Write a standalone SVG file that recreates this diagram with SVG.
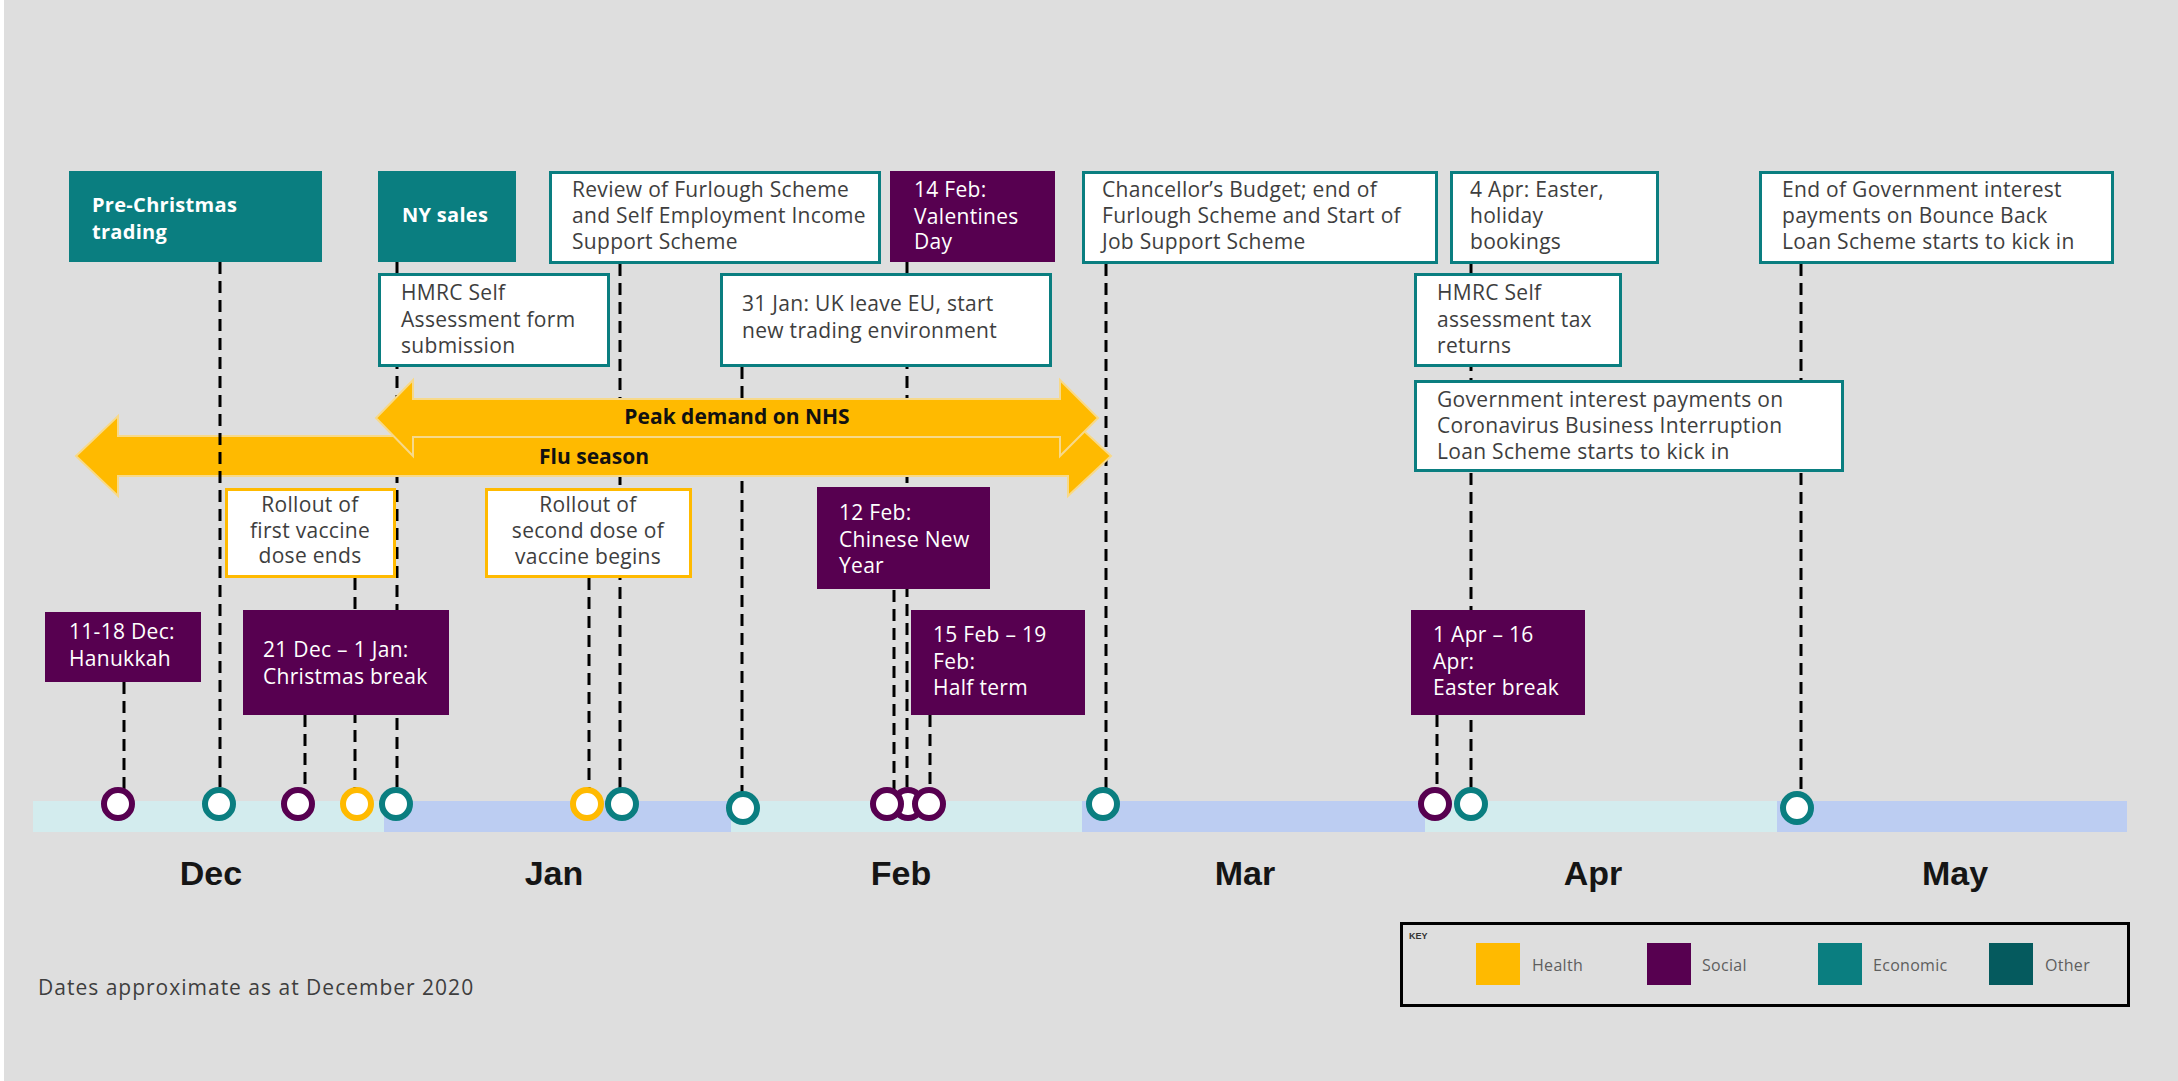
<svg xmlns="http://www.w3.org/2000/svg" width="2178" height="1081" viewBox="0 0 2178 1081">
<defs>
<style>
.t{font-family:"Open Sans","Noto Sans","Liberation Sans",sans-serif;font-size:21px;letter-spacing:0.3px;fill:#3E3E3E}
.tw{font-family:"Open Sans","Noto Sans","Liberation Sans",sans-serif;font-size:21px;letter-spacing:0.3px;fill:#FFFFFF}
.b{font-weight:bold;font-size:20px}
.al{font-family:"Open Sans","Noto Sans","Liberation Sans",sans-serif;font-size:21px;font-weight:bold;fill:#111;text-anchor:middle}
.mid{text-anchor:middle}
.eco{fill:#0A7E80}
.soc{fill:#570050}
.oth{fill:#055A5E}
.hea{fill:#FFBA00}
.we{fill:#FFFFFF;stroke:#0A7E80;stroke-width:3}
.wh{fill:#FFFFFF;stroke:#FFBA00;stroke-width:3}
.dash{stroke:#000;stroke-width:3;stroke-dasharray:12 7;fill:none}
.c{fill:#FFFFFF;stroke-width:6}
.ce{stroke:#0A7E80}
.cs{stroke:#570050}
.ch{stroke:#FFBA00}
.arrow{fill:#FFBA00;stroke:#F7D98A;stroke-width:2}
.month{font-family:"Liberation Sans",Arial,sans-serif;font-size:34px;font-weight:bold;fill:#151515;text-anchor:middle}
.key{font-family:"Open Sans","Noto Sans",sans-serif;font-size:16px;letter-spacing:0.3px;fill:#5E5E5E}
</style>
</defs>

<rect x="0" y="0" width="2178" height="1081" fill="#FFFFFF"/>
<rect x="4" y="0" width="2174" height="1081" fill="#DEDEDE"/>

<g id="timeline-bar">
<rect x="33" y="801" width="351" height="31" fill="#D3ECEE"/>
<rect x="384" y="801" width="347" height="31" fill="#BCCDF2"/>
<rect x="731" y="801" width="351" height="31" fill="#D3ECEE"/>
<rect x="1082" y="801" width="343" height="31" fill="#BCCDF2"/>
<rect x="1425" y="801" width="352" height="31" fill="#D3ECEE"/>
<rect x="1777" y="801" width="350" height="31" fill="#BCCDF2"/>
</g>

<g id="month-labels">
<text class="month" x="211" y="885">Dec</text>
<text class="month" x="554" y="885">Jan</text>
<text class="month" x="901" y="885">Feb</text>
<text class="month" x="1245" y="885">Mar</text>
<text class="month" x="1593" y="885">Apr</text>
<text class="month" x="1955" y="885">May</text>
</g>

<g id="connectors">
<line class="dash" x1="124" y1="682" x2="124" y2="800"/>
<line class="dash" x1="305" y1="715" x2="305" y2="800"/>
<line class="dash" x1="355" y1="578" x2="355" y2="800"/>
<line class="dash" x1="397" y1="262" x2="397" y2="800"/>
<line class="dash" x1="589" y1="578" x2="589" y2="800"/>
<line class="dash" x1="620" y1="264" x2="620" y2="800"/>
<line class="dash" x1="742" y1="367" x2="742" y2="804"/>
<line class="dash" x1="894" y1="590" x2="894" y2="800"/>
<line class="dash" x1="907" y1="262" x2="907" y2="800"/>
<line class="dash" x1="930" y1="715" x2="930" y2="800"/>
<line class="dash" x1="1106" y1="264" x2="1106" y2="800"/>
<line class="dash" x1="1437" y1="715" x2="1437" y2="800"/>
<line class="dash" x1="1471" y1="264" x2="1471" y2="800"/>
<line class="dash" x1="1801" y1="264" x2="1801" y2="804"/>
</g>

<g id="flu-season">
<polygon class="arrow" points="76,456 118,416 118,436 1068,436 1068,416 1111,456 1068,496 1068,476 118,476 118,496"/>
<text class="al" x="594" y="464">Flu season</text>
</g>
<g id="peak-demand">
<polygon class="arrow" points="376,418 413,380 413,399 1060,399 1060,380 1098,418 1060,456 1060,437 413,437 413,456"/>
<text class="al" x="737" y="424">Peak demand on NHS</text>
</g>

<g id="connectors-front">
<line class="dash" x1="220" y1="262" x2="220" y2="800"/>
</g>

<g id="pre-christmas">
<rect class="eco" x="69" y="171" width="253" height="91"/>
<text class="tw b" x="92" y="212">Pre-Christmas</text>
<text class="tw b" x="92" y="239">trading</text>
</g>
<g id="ny-sales">
<rect class="eco" x="378" y="171" width="138" height="91"/>
<text class="tw b" x="402" y="222">NY sales</text>
</g>
<g id="hmrc-self-assessment-form">
<rect class="we" x="379.5" y="274.5" width="229" height="91"/>
<text class="t" x="401" y="300">HMRC Self</text>
<text class="t" x="401" y="327">Assessment form</text>
<text class="t" x="401" y="353">submission</text>
</g>
<g id="review-furlough">
<rect class="we" x="550.5" y="172.5" width="329" height="90"/>
<text class="t" x="572" y="197">Review of Furlough Scheme</text>
<text class="t" x="572" y="223">and Self Employment Income</text>
<text class="t" x="572" y="249">Support Scheme</text>
</g>
<g id="valentines-day">
<rect class="soc" x="890" y="171" width="165" height="91"/>
<text class="tw" x="914" y="197">14 Feb:</text>
<text class="tw" x="914" y="224">Valentines</text>
<text class="tw" x="914" y="249">Day</text>
</g>
<g id="uk-leave-eu">
<rect class="we" x="721.5" y="274.5" width="329" height="91"/>
<text class="t" x="742" y="311">31 Jan: UK leave EU, start</text>
<text class="t" x="742" y="338">new trading environment</text>
</g>
<g id="chancellors-budget">
<rect class="we" x="1083.5" y="172.5" width="353" height="90"/>
<text class="t" x="1102" y="197">Chancellor’s Budget; end of</text>
<text class="t" x="1102" y="223">Furlough Scheme and Start of</text>
<text class="t" x="1102" y="249">Job Support Scheme</text>
</g>
<g id="easter-holiday-bookings">
<rect class="we" x="1451.5" y="172.5" width="206" height="90"/>
<text class="t" x="1470" y="197">4 Apr: Easter,</text>
<text class="t" x="1470" y="223">holiday</text>
<text class="t" x="1470" y="249">bookings</text>
</g>
<g id="hmrc-tax-returns">
<rect class="we" x="1415.5" y="274.5" width="205" height="91"/>
<text class="t" x="1437" y="300">HMRC Self</text>
<text class="t" x="1437" y="327">assessment tax</text>
<text class="t" x="1437" y="353">returns</text>
</g>
<g id="cbils-interest">
<rect class="we" x="1415.5" y="381.5" width="427" height="89"/>
<text class="t" x="1437" y="407">Government interest payments on</text>
<text class="t" x="1437" y="433">Coronavirus Business Interruption</text>
<text class="t" x="1437" y="459">Loan Scheme starts to kick in</text>
</g>
<g id="bounce-back-interest">
<rect class="we" x="1760.5" y="172.5" width="352" height="90"/>
<text class="t" x="1782" y="197">End of Government interest</text>
<text class="t" x="1782" y="223">payments on Bounce Back</text>
<text class="t" x="1782" y="249">Loan Scheme starts to kick in</text>
</g>
<g id="first-dose-ends">
<rect class="wh" x="226.5" y="489.5" width="168" height="87"/>
<text class="t mid" x="310" y="512">Rollout of</text>
<text class="t mid" x="310" y="538">first vaccine</text>
<text class="t mid" x="310" y="563">dose ends</text>
</g>
<g id="second-dose-begins">
<rect class="wh" x="486.5" y="489.5" width="204" height="87"/>
<text class="t mid" x="588" y="512">Rollout of</text>
<text class="t mid" x="588" y="538">second dose of</text>
<text class="t mid" x="588" y="564">vaccine begins</text>
</g>
<g id="chinese-new-year">
<rect class="soc" x="817" y="487" width="173" height="102"/>
<text class="tw" x="839" y="520">12 Feb:</text>
<text class="tw" x="839" y="547">Chinese New</text>
<text class="tw" x="839" y="573">Year</text>
</g>
<g id="hanukkah">
<rect class="soc" x="45" y="612" width="156" height="70"/>
<text class="tw" x="69" y="639">11-18 Dec:</text>
<text class="tw" x="69" y="666">Hanukkah</text>
</g>
<g id="christmas-break">
<rect class="soc" x="243" y="610" width="206" height="105"/>
<text class="tw" x="263" y="657">21 Dec – 1 Jan:</text>
<text class="tw" x="263" y="684">Christmas break</text>
</g>
<g id="half-term">
<rect class="soc" x="911" y="610" width="174" height="105"/>
<text class="tw" x="933" y="642">15 Feb – 19</text>
<text class="tw" x="933" y="669">Feb:</text>
<text class="tw" x="933" y="695">Half term</text>
</g>
<g id="easter-break">
<rect class="soc" x="1411" y="610" width="174" height="105"/>
<text class="tw" x="1433" y="642">1 Apr – 16</text>
<text class="tw" x="1433" y="669">Apr:</text>
<text class="tw" x="1433" y="695">Easter break</text>
</g>

<g id="markers">
<circle class="c cs" cx="118" cy="804" r="14"/>
<circle class="c ce" cx="219" cy="804" r="14"/>
<circle class="c cs" cx="298" cy="804" r="14"/>
<circle class="c ch" cx="357" cy="804" r="14"/>
<circle class="c ce" cx="396" cy="804" r="14"/>
<circle class="c ch" cx="587" cy="804" r="14"/>
<circle class="c ce" cx="622" cy="804" r="14"/>
<circle class="c ce" cx="743" cy="808" r="14"/>
<circle class="c cs" cx="908" cy="804" r="14"/>
<circle class="c cs" cx="887" cy="804" r="14"/>
<circle class="c cs" cx="929" cy="804" r="14"/>
<circle class="c ce" cx="1103" cy="804" r="14"/>
<circle class="c cs" cx="1435" cy="804" r="14"/>
<circle class="c ce" cx="1471" cy="804" r="14"/>
<circle class="c ce" cx="1797" cy="808" r="14"/>
</g>

<g id="note">
<text class="t" x="38" y="995" style="font-size:21px;letter-spacing:1px">Dates approximate as at December 2020</text>
</g>

<g id="key">
<rect x="1401.5" y="923.5" width="727" height="82" fill="none" stroke="#000" stroke-width="3"/>
<text x="1409" y="939" style="font-family:'Liberation Sans',Arial,sans-serif;font-size:9px;font-weight:bold;fill:#333">KEY</text>
<rect class="hea" x="1476" y="943" width="44" height="42"/>
<text class="key" x="1532" y="971">Health</text>
<rect class="soc" x="1647" y="943" width="44" height="42"/>
<text class="key" x="1702" y="971">Social</text>
<rect class="eco" x="1818" y="943" width="44" height="42"/>
<text class="key" x="1873" y="971">Economic</text>
<rect class="oth" x="1989" y="943" width="44" height="42"/>
<text class="key" x="2045" y="971">Other</text>
</g>
</svg>
